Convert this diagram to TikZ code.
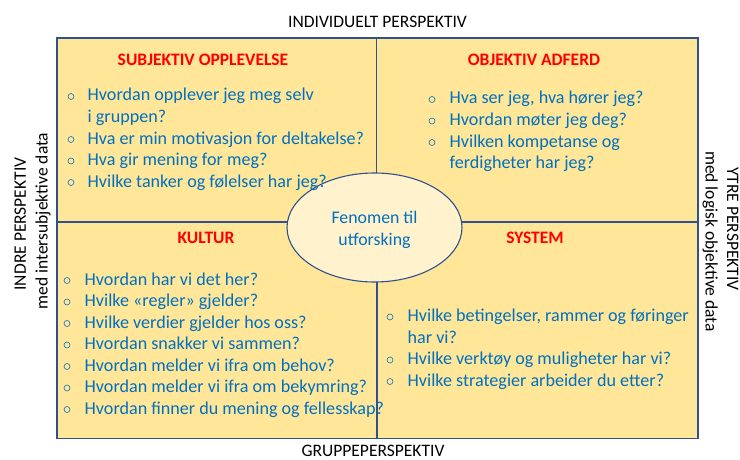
\documentclass[tikz,border=0pt]{standalone}
\usepackage{fontspec}
\setmainfont{Carlito}
\usetikzlibrary{shapes.geometric}
\definecolor{qblue}{RGB}{0,112,192}
\definecolor{qred}{RGB}{255,0,0}
\definecolor{qfill}{RGB}{255,230,153}
\definecolor{qedge}{RGB}{47,82,143}
\definecolor{efill}{RGB}{255,242,204}
\newcommand\qitem[5]{%
  \node[bul] (#1b) at (#2,#4-4.5) {};
  \node[qtext] (#1) at (#3,#4) {#5};}
\begin{document}
\begin{tikzpicture}[x=1pt,y=-1pt,
  quad/.style={draw=qedge, fill=qfill, line width=1.1pt},
  head/.style={anchor=base, inner sep=0, font=\fontsize{17.5}{21}\selectfont\bfseries, text=qred},
  qtext/.style={anchor=base west, inner sep=0, font=\fontsize{18.1}{21}\selectfont, text=qblue},
  bul/.style={circle, draw=qblue, line width=0.6pt, minimum size=6pt, inner sep=0},
  outer/.style={anchor=base, inner sep=0, font=\fontsize{17.5}{21}\selectfont, text=black},
  fenomen/.style={ellipse, draw=qedge, fill=efill, line width=1.1pt, minimum width=175pt, minimum height=109pt, inner sep=0},
  ftext/.style={align=center, inner sep=0, font=\fontsize{17.8}{22}\selectfont, text=qblue}
]
\useasboundingbox (0,0) rectangle (740,460);
\fill[white] (0,0) rectangle (740,460);
% quadrants
\draw[quad] (57,38) rectangle (376.5,222);
\draw[quad] (376.5,38) rectangle (698,222);
\draw[quad] (57,222) rectangle (377,438.5);
\draw[quad] (377,222) rectangle (698,438.5);
% central ellipse
\node[fenomen] (fen) at (374.5,227.5) {};
\node[ftext] (fent) at ([yshift=-2pt]fen.center) {Fenomen til\\utforsking};
% outer labels
\node[outer] (top) at (377.5,28) {INDIVIDUELT PERSPEKTIV};
\node[outer] (bot) at (373,456.5) {GRUPPEPERSPEKTIV};
\node[outer, rotate=90] (left1) at (26,224) {INDRE PERSPEKTIV};
\node[outer, rotate=90] (left2) at (47.5,221) {med intersubjektive data};
\node[outer, rotate=-90] (right1) at (727,229) {YTRE PERSPEKTIV};
\node[outer, rotate=-90] (right2) at (705.5,241.5) {med logisk objektive data};
% headings
\node[head] (h1) at (203,65.7) {SUBJEKTIV OPPLEVELSE};
\node[head] (h2) at (534,66) {OBJEKTIV ADFERD};
\node[head] (h3) at (206,243.3) {KULTUR};
\node[head] (h4) at (535,243.3) {SYSTEM};
% top-left
\qitem{a1}{71}{87.5}{101}{Hvordan opplever jeg meg selv}
\node[qtext] (a1c) at (87.5,122.5) {i gruppen?};
\qitem{a2}{71}{87.5}{144}{Hva er min motivasjon for deltakelse?}
\qitem{a3}{71}{87.5}{165.5}{Hva gir mening for meg?}
\qitem{a4}{71}{87.5}{187}{Hvilke tanker og følelser har jeg?}
% top-right
\qitem{b1}{432}{449.5}{104}{Hva ser jeg, hva hører jeg?}
\qitem{b2}{432}{449.5}{125.5}{Hvordan møter jeg deg?}
\qitem{b3}{432}{449.5}{147}{Hvilken kompetanse og}
\node[qtext] (b3c) at (449.5,168.5) {ferdigheter har jeg?};
% bottom-left
\qitem{c1}{67}{84.5}{285}{Hvordan har vi det her?}
\qitem{c2}{67}{84.5}{306.5}{Hvilke «regler» gjelder?}
\qitem{c3}{67}{84.5}{328}{Hvilke verdier gjelder hos oss?}
\qitem{c4}{67}{84.5}{349.5}{Hvordan snakker vi sammen?}
\qitem{c5}{67}{84.5}{371}{Hvordan melder vi ifra om behov?}
\qitem{c6}{67}{84.5}{392.5}{Hvordan melder vi ifra om bekymring?}
\qitem{c7}{67}{84.5}{414}{Hvordan finner du mening og fellesskap?}
% bottom-right
\qitem{d1}{390}{407.5}{321.5}{Hvilke betingelser, rammer og føringer}
\node[qtext] (d1c) at (407.5,343) {har vi?};
\qitem{d2}{390}{407.5}{364.5}{Hvilke verktøy og muligheter har vi?}
\qitem{d3}{390}{407.5}{386}{Hvilke strategier arbeider du etter?}
\end{tikzpicture}
\end{document}
